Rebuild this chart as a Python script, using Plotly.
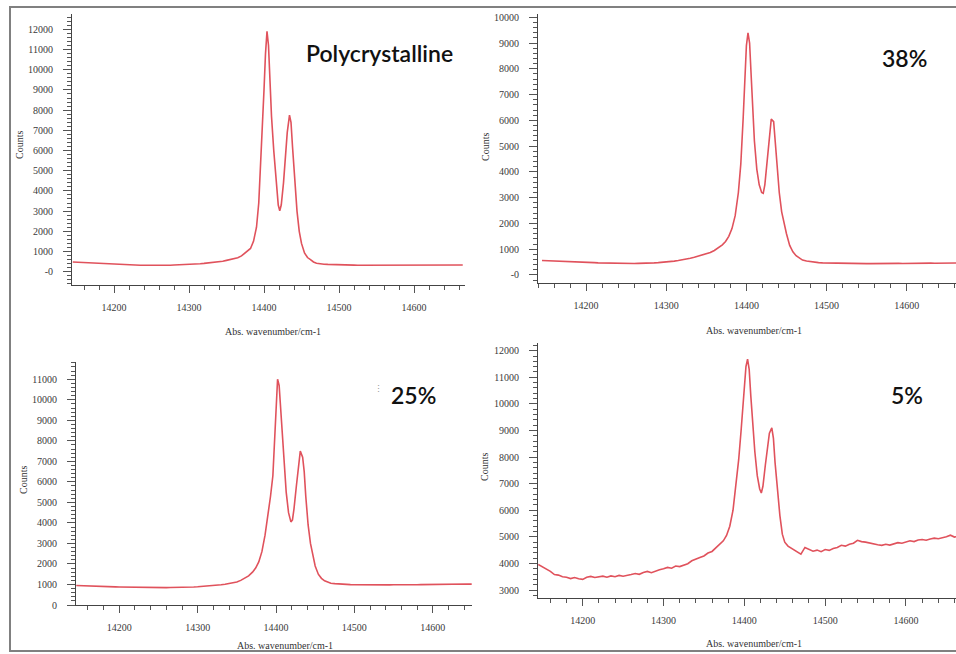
import plotly.graph_objects as go

# ---------------- data ----------------
wavenumber = (
    [14145, 14150, 14155, 14160, 14165, 14170, 14175, 14180, 14185, 14190,
     14195, 14200, 14205, 14210, 14215, 14220, 14225, 14230, 14235, 14240,
     14245, 14250, 14255, 14260, 14265, 14270, 14275, 14280, 14285, 14290,
     14295, 14300, 14305, 14310, 14315, 14320, 14325, 14330, 14335, 14340,
     14345, 14350, 14355, 14360, 14365, 14370]
    + [14374, 14378, 14382, 14386, 14390, 14393, 14396, 14398, 14400, 14402,
       14404, 14406, 14408, 14410, 14413, 14416, 14419, 14421, 14423, 14426,
       14429, 14431, 14434, 14436, 14438, 14441, 14444, 14447, 14450, 14454,
       14458, 14462, 14466, 14470]
    + [14475, 14480, 14485, 14490, 14495, 14500, 14505, 14510, 14515, 14520,
       14525, 14530, 14535, 14540, 14545, 14550, 14555, 14560, 14565, 14570,
       14575, 14580, 14585, 14590, 14595, 14600, 14605, 14610, 14615, 14620,
       14625, 14630, 14635, 14640, 14645, 14650, 14655, 14660, 14665]
)

counts_poly = (
    [480, 470, 465, 450, 445, 430, 420, 410, 395, 380,
     370, 360, 350, 345, 335, 330, 325, 320, 315, 320,
     315, 310, 315, 320, 320, 325, 320, 330, 335, 340,
     345, 355, 365, 380, 395, 410, 425, 440, 460, 490,
     520, 560, 600, 640, 690, 780]
    + [900, 1000, 1150, 1500, 2200, 3400, 5600, 7300, 9000, 10800,
       11900, 11200, 9400, 7700, 6000, 4400, 3300, 3020, 3300, 4400,
       5900, 6900, 7750, 7400, 6200, 4600, 3000, 2000, 1400, 930,
       700, 600, 480, 420]
    + [385, 370, 360, 350, 345, 340, 335, 330, 330, 325,
       320, 320, 315, 315, 310, 310, 305, 305, 300, 300,
       305, 300, 300, 300, 295, 300, 300, 305, 300, 300,
       305, 310, 310, 315, 315, 320, 325, 325, 330]
)

counts_38 = (
    [560, 555, 560, 550, 545, 540, 530, 520, 515, 505,
     500, 490, 485, 480, 470, 465, 460, 455, 450, 450,
     445, 445, 440, 445, 450, 450, 455, 460, 470, 480,
     490, 505, 520, 540, 560, 585, 615, 650, 690, 730,
     770, 810, 870, 950, 1050, 1170]
    + [1300, 1500, 1800, 2300, 3200, 4300, 6100, 7700, 8900, 9400,
       9000, 7700, 6300, 5200, 4100, 3500, 3200, 3170, 3500, 4400,
       5400, 6050, 5950, 5200, 4300, 3200, 2450, 1950, 1600, 1150,
       900, 750, 650, 580]
    + [540, 510, 490, 480, 470, 465, 460, 455, 455, 450,
       450, 445, 445, 440, 445, 440, 440, 445, 440, 445,
       445, 440, 445, 450, 445, 450, 450, 455, 450, 455,
       455, 460, 455, 460, 460, 465, 460, 465, 465]
)

counts_25 = (
    [950, 940, 935, 930, 920, 915, 905, 900, 895, 890,
     885, 880, 875, 870, 865, 860, 855, 855, 850, 845,
     845, 845, 840, 845, 850, 850, 855, 860, 865, 870,
     880, 890, 900, 915, 930, 945, 965, 985, 1010, 1040,
     1075, 1120, 1200, 1300, 1420, 1600]
    + [1800, 2100, 2600, 3400, 4400, 5300, 6300, 7700, 9300, 11000,
       10700, 9600, 8200, 6900, 5500, 4500, 4050, 4150, 4700, 5800,
       6900, 7500, 7200, 6500, 5300, 3900, 3000, 2350, 1900, 1500,
       1300, 1180, 1100, 1060]
    + [1040, 1020, 1010, 1000, 995, 990, 985, 990, 985, 980,
       985, 980, 980, 985, 980, 990, 985, 990, 985, 990,
       995, 990, 995, 1000, 995, 1000, 1005, 1000, 1010, 1005,
       1010, 1015, 1010, 1015, 1020, 1015, 1020, 1025, 1020]
)

counts_5 = (
    [3960, 3880, 3800, 3700, 3580, 3560, 3500, 3480, 3430, 3470,
     3420, 3400, 3480, 3510, 3470, 3500, 3520, 3480, 3530, 3500,
     3550, 3520, 3540, 3580, 3620, 3590, 3660, 3700, 3650, 3720,
     3760, 3800, 3850, 3820, 3900, 3880, 3940, 3990, 4100, 4150,
     4220, 4280, 4390, 4450, 4580, 4720]
    + [4850, 5050, 5400, 6000, 7000, 7900, 9000, 9900, 10800, 11400,
       11680, 11300, 10300, 9300, 8200, 7300, 6800, 6650, 6900, 7700,
       8500, 8900, 9100, 8700, 7800, 6700, 5800, 5100, 4800, 4650,
       4580, 4500, 4420, 4350]
    + [4600, 4520, 4460, 4500, 4440, 4520, 4490, 4560, 4600, 4680,
       4650, 4720, 4760, 4870, 4820, 4800, 4760, 4740, 4700, 4680,
       4720, 4690, 4740, 4780, 4760, 4800, 4850, 4820, 4880, 4900,
       4870, 4920, 4950, 4930, 4960, 5000, 5060, 4990, 5020]
)

panel_labels = ["Polycrystalline", "38%", "25%", "5%"]
x_tick_vals = [14200, 14300, 14400, 14500, 14600]
x_tick_text = ["14200", "14300", "14400", "14500", "14600"]
y_ticks_poly = list(range(0, 13000, 1000))
y_text_poly = ["-0"] + [str(v) for v in y_ticks_poly[1:]]
y_ticks_38 = list(range(0, 11000, 1000))
y_text_38 = ["-0"] + [str(v) for v in y_ticks_38[1:]]
y_ticks_25 = list(range(0, 12000, 1000))
y_text_25 = [str(v) for v in y_ticks_25]
y_ticks_5 = list(range(3000, 13000, 1000))
y_text_5 = [str(v) for v in y_ticks_5]
x_title = "Abs. wavenumber/cm-1"
y_title = "Counts"

# ---------------- figure ----------------
W, H = 956, 654
def px(x):
    return x / W
def py(y):
    return 1 - y / H

LINE = "#e0525c"
fig = go.Figure()
series = [counts_poly, counts_38, counts_25, counts_5]
for i, s in enumerate(series):
    sfx = "" if i == 0 else str(i + 1)
    fig.add_trace(go.Scatter(x=wavenumber, y=s, mode="lines",
                             line=dict(color=LINE, width=1.6),
                             xaxis="x" + sfx, yaxis="y" + sfx,
                             showlegend=False, hoverinfo="skip"))

tickfont = dict(family="Liberation Serif", size=10, color="#3a3a3a")
def xaxis(domain, rng, anchor):
    return dict(domain=domain, range=rng, anchor=anchor, automargin=False,
                tickmode="array", tickvals=x_tick_vals, ticktext=x_tick_text,
                ticks="outside", ticklen=7, tickcolor="#555", tickwidth=1,
                minor=dict(tickmode="linear", tick0=14000, dtick=20,
                           ticks="outside", ticklen=4, tickcolor="#555", showgrid=False),
                showline=True, linecolor="#444", linewidth=1,
                showgrid=False, zeroline=False, tickfont=tickfont,
                ticklabelstandoff=6)
def yaxis(domain, rng, anchor, vals, text):
    return dict(domain=domain, range=rng, anchor=anchor, automargin=False,
                tickmode="array", tickvals=vals, ticktext=text,
                ticks="outside", ticklen=8, tickcolor="#555", tickwidth=1,
                minor=dict(tickmode="linear", tick0=0, dtick=200,
                           ticks="outside", ticklen=4, tickcolor="#555", showgrid=False),
                showline=True, linecolor="#444", linewidth=1,
                showgrid=False, zeroline=False, tickfont=tickfont,
                ticklabelstandoff=8)

fig.update_layout(
    template="none",
    width=W, height=H, margin=dict(l=0, r=0, t=0, b=0),
    paper_bgcolor="white", plot_bgcolor="white",
    xaxis=xaxis([px(72), px(465)], [14144, 14668], "y"),
    yaxis=yaxis([py(285), py(14)], [-660, 12760], "x", y_ticks_poly, y_text_poly),
    xaxis2=xaxis([px(538), 1.0], [14140, 14661.5], "y2"),
    yaxis2=yaxis([py(282.7), py(14)], [-299, 10128], "x2", y_ticks_38, y_text_38),
    xaxis3=xaxis([px(76), px(471.7)], [14144.7, 14649.8], "y3"),
    yaxis3=yaxis([py(605), py(361.7)], [0, 11857], "x3", y_ticks_25, y_text_25),
    xaxis4=xaxis([px(538), 1.0], [14144.7, 14661.9], "y4"),
    yaxis4=yaxis([py(598), py(343.3)], [2699, 12278], "x4", y_ticks_5, y_text_5),
)

ann = []
titlefont = dict(family="Liberation Serif", size=10, color="#333")
# x titles
for cx, cy in [(273, 331), (754, 330), (285, 645), (754, 643)]:
    ann.append(dict(x=px(cx), y=py(cy), xref="paper", yref="paper", text=x_title,
                    showarrow=False, font=titlefont, xanchor="center", yanchor="middle"))
# y titles
for cx, cy in [(20, 145), (485, 147), (23, 480), (484, 467)]:
    ann.append(dict(x=px(cx), y=py(cy), xref="paper", yref="paper", text=y_title,
                    showarrow=False, font=titlefont, textangle=-90,
                    xanchor="center", yanchor="middle"))
# panel labels
labfont = dict(family="Lato", size=23, color="#111", weight=600)
for (cx, cy), t in zip([(379, 53), (904, 58), (413, 395), (907, 395)], panel_labels):
    ann.append(dict(x=px(cx), y=py(cy), xref="paper", yref="paper", text=t,
                    showarrow=False, font=labfont, xanchor="center", yanchor="middle"))
ann.append(dict(x=px(378), y=py(388), xref="paper", yref="paper", text="⋮",
                showarrow=False, font=dict(size=9, color="#999"),
                xanchor="center", yanchor="middle"))
fig.update_layout(annotations=ann)

fig.add_shape(type="rect", xref="paper", yref="paper",
              x0=px(10), y0=py(651), x1=1.02, y1=py(7),
              line=dict(color="#808080", width=2), fillcolor="rgba(0,0,0,0)")

fig.write_html("out.html", config={"displayModeBar": False},
               post_script="document.body.style.margin='0px';"
                           "document.body.style.overflow='hidden';")
